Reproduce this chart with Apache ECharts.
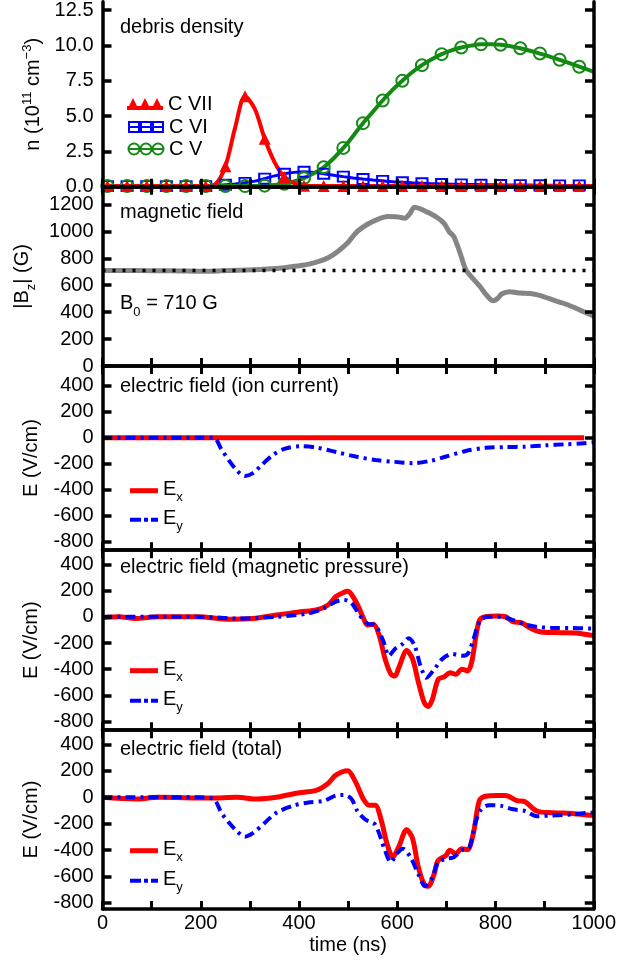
<!DOCTYPE html>
<html><head><meta charset="utf-8">
<script src="https://cdn.jsdelivr.net/npm/echarts@6/dist/echarts.min.js"></script>
<style>html,body{margin:0;padding:0;background:#fff}#c{width:619px;height:963px}</style>
</head><body><div id="c"></div>
<script>
// ---------------- data ----------------
const timeTicks = [0,100,200,300,400,500,600,700,800,900,1000];
const timeLabels = [0,200,400,600,800,1000];
const densTicks = [0,2.5,5,7.5,10,12.5];
const bzTicks = [0,200,400,600,800,1000,1200];
const eTicks = [-800,-600,-400,-200,0,200,400];

// debris density (10^11 cm^-3)
const densTime = [10,30,50,70,90,110,130,150,170,190,210,230,250,270,290,310,330,350,370,390,410,430,450,470,490,510,530,550,570,590,610,630,650,670,690,710,730,750,770,790,810,830,850,870,890,910,930,950,970,990,1000];
const cVII = [0.05,0.05,0.05,0.05,0.05,0.05,0.05,0.05,0.05,0.05,0.05,0.2,1.45,4.2,6.4,5.5,3.4,1.75,0.7,0.25,0.08,0.05,0.05,0.05,0.05,0.05,0.05,0.05,0.05,0.05,0.05,0.05,0.05,0.05,0.05,0.05,0.05,0.05,0.05,0.05,0.05,0.05,0.05,0.05,0.05,0.05,0.05,0.05,0.05,0.05,0.05];
const cVI = [0.05,0.05,0.05,0.05,0.05,0.05,0.05,0.05,0.05,0.05,0.05,0.08,0.14,0.2,0.28,0.4,0.58,0.77,0.92,1.02,1.06,1.02,0.92,0.82,0.72,0.63,0.55,0.48,0.42,0.36,0.32,0.28,0.25,0.22,0.2,0.18,0.17,0.16,0.15,0.14,0.13,0.13,0.12,0.12,0.11,0.11,0.1,0.1,0.1,0.1,0.1];
const cV = [0.05,0.05,0.05,0.05,0.05,0.05,0.05,0.05,0.05,0.05,0.05,0.05,0.05,0.05,0.05,0.05,0.08,0.12,0.22,0.38,0.62,0.95,1.38,2.0,2.75,3.6,4.5,5.3,6.1,6.85,7.5,8.1,8.6,9.02,9.38,9.65,9.85,9.98,10.07,10.08,10.04,9.94,9.8,9.62,9.42,9.2,8.98,8.74,8.49,8.25,8.13];

// magnetic field |Bz| (G)
const bzTime = [0,40,80,120,160,200,240,280,320,360,400,420,440,460,480,500,510,520,540,560,580,600,615,625,635,645,660,680,695,705,715,727,739,750,767,783,795,805,812,828,850,870,885,900,916,936,956,976,1000];
const bzValue = [709,710,709,708,706,704,707,712,717,726,745,757,777,806,855,920,965,1005,1055,1090,1110,1108,1098,1130,1180,1170,1145,1105,1060,1000,960,845,717,665,595,520,485,505,535,552,542,538,528,512,492,468,440,408,370];
const b0Time = [0,1000];
const b0Value = [710,710];

// electric field (ion current)
const ionExTime = [0,980];
const ionExValue = [0,0];
const ionEyTime = [0,100,200,226,242,258,274,290,306,322,346,370,403,435,475,515,555,595,631,667,699,739,779,820,860,900,940,980,1000];
const ionEyValue = [0,0,0,0,-89,-178,-255,-295,-273,-217,-135,-86,-66,-76,-110,-145,-171,-186,-196,-178,-145,-102,-78,-72,-69,-59,-51,-43,-35];

// electric field (magnetic pressure)
const mpExTime = [0,34,66,114,194,258,306,354,403,435,459,475,491,499,507,519,531,539,551,563,575,587,595,603,619,631,643,655,663,671,683,695,707,719,731,743,751,759,767,779,803,820,836,852,872,892,932,964,996,1000];
const mpExValue = [-8,0,-13,0,0,-18,-13,13,39,52,90,155,186,194,168,90,-13,-62,-58,-142,-323,-439,-452,-387,-258,-323,-503,-658,-684,-632,-477,-458,-426,-439,-400,-413,-348,-168,-26,0,5,0,-39,-44,-90,-116,-121,-124,-142,-143];
const mpEyTime = [0,114,194,274,354,419,451,475,491,507,523,539,555,571,583,595,611,623,635,647,659,675,691,711,731,743,755,767,783,812,836,860,884,916,956,996,1000];
const mpEyValue = [0,0,0,-13,0,26,65,116,129,103,13,-52,-65,-181,-297,-245,-206,-163,-219,-374,-465,-400,-323,-284,-297,-284,-168,-39,0,0,-26,-59,-77,-85,-85,-90,-90];

// electric field (total)
const totExTime = [0,66,114,218,274,314,354,395,435,459,475,499,515,531,543,555,567,579,591,603,619,631,643,655,663,675,683,699,707,719,731,743,755,767,779,803,820,844,860,884,916,956,996,1000];
const totExValue = [0,-13,0,-5,0,-13,0,31,52,104,168,202,117,-13,-60,-60,-168,-350,-454,-376,-246,-311,-531,-661,-674,-583,-480,-441,-402,-428,-389,-397,-272,-26,8,13,13,-26,-34,-104,-117,-122,-137,-138];
const totEyTime = [0,194,226,242,258,274,290,306,330,354,387,419,451,475,491,507,519,535,555,575,587,599,611,627,643,657,671,683,699,715,731,747,759,771,787,812,836,860,884,916,956,996,1000];
const totEyValue = [0,0,-13,-117,-194,-259,-298,-272,-194,-117,-65,-39,-26,13,18,-13,-104,-168,-207,-402,-492,-428,-389,-454,-583,-674,-609,-492,-467,-454,-402,-376,-194,-91,-60,-65,-91,-104,-143,-137,-130,-117,-117];

// ---------------- layout / style ----------------
const F = 'Liberation Sans, Arial, sans-serif';
const FS = 20;
const RED = '#ff0000', BLUE = '#0000ff', GREEN = '#138a13', GRAY = '#858585';
const DASHDOT = [10,5,3,5];
const gx = 102.5, gw = 491.5;
const panels = [
  {top:-3, height:189.8, min:0, max:13.08, ticks:densTicks, fmt:v=>v.toFixed(1)},
  {top:186.8, height:179.2, min:0, max:1331.5, ticks:bzTicks, fmt:v=>String(v)},
  {top:366, height:184.2, min:-865.4, max:551.5, ticks:eTicks, fmt:v=>String(v)},
  {top:550.2, height:180, min:-864.8, max:507.5, ticks:eTicks, fmt:v=>String(v)},
  {top:730.2, height:178.8, min:-846.2, max:508.3, ticks:eTicks, fmt:v=>String(v)}
];
const zip = (t, v) => t.map((x, i) => [x, v[i]]);
const black = '#000';
const grids = [], xAxes = [], yAxes = [];
const AZ = 4;
const axLine = {show:true, onZero:false, lineStyle:{color:black, width:3.5}};
const yNames = [
  {name:'{a|n (10}{b|11}{a| cm}{b|\u22123}{a|)}', gap:59.5,
   rich:{a:{fontSize:FS, fontFamily:F, color:black, lineHeight:22, padding:[5,0,0,0], verticalAlign:'bottom'},
         b:{fontSize:13, fontFamily:F, color:black, lineHeight:13, verticalAlign:'top'}}},
  {name:'{a||B}{s|z}{a|| (G)}', gap:55.5,
   rich:{a:{fontSize:FS, fontFamily:F, color:black, lineHeight:22, verticalAlign:'top'},
         s:{fontSize:13, fontFamily:F, color:black, lineHeight:13, padding:[13,0,0,0], verticalAlign:'top'}}},
  {name:'E (V/cm)', gap:59.5, rich:null},
  {name:'E (V/cm)', gap:59.5, rich:null},
  {name:'E (V/cm)', gap:59.5, rich:null}
];
panels.forEach((p, i) => {
  grids.push({left:gx, width:gw, top:p.top, height:p.height, containLabel:false});
  xAxes.push({type:'value', gridIndex:i, position:'bottom', min:0, max:1000, z:AZ,
    axisLine:axLine, splitLine:{show:false},
    axisTick:{show:true, inside:true, length:8, lineStyle:{color:black, width:3}, customValues:timeTicks},
    axisLabel:{show:i===4, customValues:timeLabels, formatter:v=>String(v), margin:4, color:black, fontFamily:F, fontSize:FS},
    name: i===4 ? 'time (ns)' : '', nameLocation:'middle', nameGap:25,
    nameTextStyle:{color:black, fontFamily:F, fontSize:FS, lineHeight:22}});
  xAxes.push({type:'value', gridIndex:i, position:'top', min:0, max:1000, show:i!==0, z:AZ,
    axisLine:axLine, splitLine:{show:false},
    axisTick:{show:true, inside:true, length:8, lineStyle:{color:black, width:3}, customValues:timeTicks},
    axisLabel:{show:false}});
  const yn = yNames[i];
  const nts = {color:black, fontFamily:F, fontSize:FS, lineHeight:22};
  if (yn.rich) nts.rich = yn.rich;
  yAxes.push({type:'value', gridIndex:i, position:'left', min:p.min, max:p.max, z:AZ,
    axisLine:axLine, splitLine:{show:false},
    axisTick:{show:true, inside:true, length:9, lineStyle:{color:black, width:3.5}, customValues:p.ticks},
    axisLabel:{show:true, customValues:p.ticks, formatter:p.fmt, margin:9, color:black, fontFamily:F, fontSize:FS},
    name:yn.name, nameLocation:'middle', nameGap:yn.gap, nameTextStyle:nts});
  yAxes.push({type:'value', gridIndex:i, position:'right', min:p.min, max:p.max, z:AZ,
    axisLine:axLine, splitLine:{show:false},
    axisTick:{show:true, inside:true, length:9, lineStyle:{color:black, width:3.5}, customValues:p.ticks},
    axisLabel:{show:false}});
});

function markedData(t, v) {
  return t.map((x, i) => (i % 2 === 0 && i < 50) ? {value:[x, v[i]]} : {value:[x, v[i]], symbol:'none'});
}
const series = [
  {name:'C VI', type:'line', xAxisIndex:0, yAxisIndex:0, data:markedData(densTime, cVI), smooth:0.3,
   symbol:'rect', symbolSize:[11,10], lineStyle:{color:BLUE, width:3},
   itemStyle:{color:'rgba(0,0,0,0)', borderColor:BLUE, borderWidth:2}},
  {name:'C V', type:'line', xAxisIndex:0, yAxisIndex:0, data:markedData(densTime, cV), smooth:0.3,
   symbol:'circle', symbolSize:12, lineStyle:{color:GREEN, width:4},
   itemStyle:{color:'rgba(0,0,0,0)', borderColor:GREEN, borderWidth:2}},
  {name:'C VII', type:'line', xAxisIndex:0, yAxisIndex:0, data:markedData(densTime, cVII), smooth:0.3,
   symbol:'triangle', symbolSize:12, lineStyle:{color:RED, width:4},
   itemStyle:{color:RED}},
  {name:'Bz', type:'line', xAxisIndex:2, yAxisIndex:2, data:zip(bzTime, bzValue), smooth:0.3,
   symbol:'none', lineStyle:{color:GRAY, width:5}},
  {name:'B0', type:'line', xAxisIndex:2, yAxisIndex:2, data:zip(b0Time, b0Value),
   symbol:'none', lineStyle:{color:black, width:3.5, type:[3,7]}},
  {name:'Ex', type:'line', xAxisIndex:4, yAxisIndex:4, data:zip(ionExTime, ionExValue),
   symbol:'none', lineStyle:{color:RED, width:5}, itemStyle:{color:RED}},
  {name:'Ey', type:'line', xAxisIndex:4, yAxisIndex:4, data:zip(ionEyTime, ionEyValue), smooth:0.3,
   symbol:'none', lineStyle:{color:BLUE, width:4, type:DASHDOT}, itemStyle:{color:BLUE}},
  {name:'Ex', type:'line', xAxisIndex:6, yAxisIndex:6, data:zip(mpExTime, mpExValue), smooth:0.3,
   symbol:'none', lineStyle:{color:RED, width:5}, itemStyle:{color:RED}},
  {name:'Ey', type:'line', xAxisIndex:6, yAxisIndex:6, data:zip(mpEyTime, mpEyValue), smooth:0.3,
   symbol:'none', lineStyle:{color:BLUE, width:4, type:DASHDOT}, itemStyle:{color:BLUE}},
  {name:'Ex', type:'line', xAxisIndex:8, yAxisIndex:8, data:zip(totExTime, totExValue), smooth:0.3,
   symbol:'none', lineStyle:{color:RED, width:5}, itemStyle:{color:RED}},
  {name:'Ey', type:'line', xAxisIndex:8, yAxisIndex:8, data:zip(totEyTime, totEyValue), smooth:0.3,
   symbol:'none', lineStyle:{color:BLUE, width:4, type:DASHDOT}, itemStyle:{color:BLUE}}
];

// legend icons (library legend, custom icon shapes)
const ICON = {
  'C VII': 'path://M0,13L6,1L12,13ZM12,13L18,1L24,13ZM24,13L30,1L36,13ZM0,9H36V13H0Z',
  'C VI': 'path://M0,6H36M1,1H11V11H1ZM13,1H23V11H13ZM25,1H35V11H25Z',
  'C V': 'path://M0,6H36M11.5,6A5.5,5.5,0,1,1,0.5,6A5.5,5.5,0,1,1,11.5,6ZM23.5,6A5.5,5.5,0,1,1,12.5,6A5.5,5.5,0,1,1,23.5,6ZM35.5,6A5.5,5.5,0,1,1,24.5,6A5.5,5.5,0,1,1,35.5,6Z',
  'Ex': 'path://M0,0H28V5H0Z',
  'Ey': 'path://M0,0H11V4H0ZM14,0H18V4H14ZM21,0H28V4H21Z'
};
const legRich = {
  e:{fontSize:FS, fontFamily:F, color:black, lineHeight:22, verticalAlign:'top'},
  s:{fontSize:13, fontFamily:F, color:black, lineHeight:13, padding:[11,0,0,0], verticalAlign:'top'}
};
function leg(name, left, top, w, h, itemStyle) {
  return {data:[{name:name, icon:ICON[name]}], left:left, top:top, orient:'vertical', itemWidth:w, itemHeight:h, padding:0,
    selectedMode:false, itemStyle:itemStyle,
    formatter: n => n === 'Ex' ? '{e|E}{s|x}' : (n === 'Ey' ? '{e|E}{s|y}' : n),
    textStyle:{fontFamily:F, fontSize:FS, color:black, lineHeight:22, rich:legRich}};
}
const stRed = {color:RED, borderWidth:0};
const stBlue = {color:BLUE, borderWidth:0};
const stBlueHollow = {color:'rgba(0,0,0,0)', borderColor:BLUE, borderWidth:2};
const stGreenHollow = {color:'rgba(0,0,0,0)', borderColor:GREEN, borderWidth:2};
const legends = [
  leg('C VII', 127, 93, 36, 12, stRed),
  leg('C VI', 127, 116, 36, 10, stBlueHollow),
  leg('C V', 127, 138, 36, 11, stGreenHollow),
  leg('Ex', 130, 479.7, 28, 5, stRed), leg('Ey', 130, 508.7, 28, 4, stBlue),
  leg('Ex', 130, 659.7, 28, 5, stRed), leg('Ey', 130, 689.7, 28, 4, stBlue),
  leg('Ex', 130, 839.7, 28, 5, stRed), leg('Ey', 130, 869.7, 28, 4, stBlue)
];

function txt(s, x, y, rich) {
  const st = {text:s, fontFamily:F, fontSize:FS, fill:black, verticalAlign:'middle', align:'left'};
  if (rich) st.rich = rich;
  return {type:'text', x:x, y:y, z:100, style:st};
}
const b0Rich = {a:{fontSize:FS, fontFamily:F, fill:black, lineHeight:22, verticalAlign:'top'},
                s:{fontSize:13, fontFamily:F, fill:black, lineHeight:13, padding:[13,0,0,0], verticalAlign:'top'}};
const graphics = [
  // panel-1 plotting area ends at its bottom frame: mask marker halves that spill below it
  {type:'rect', z:3, silent:true, shape:{x:104.3, y:188.5, width:488, height:9}, style:{fill:'#fff'}},
  txt('debris density', 120, 27.5),
  txt('magnetic field', 120, 212.5),
  txt('{a|B}{s|0}{a| = 710 G}', 120, 304, b0Rich),
  txt('electric field (ion current)', 120, 386.7),
  txt('electric field (magnetic pressure)', 120, 567.5),
  txt('electric field (total)', 120, 749)
];

const chart = echarts.init(document.getElementById('c'), null, {renderer:'canvas'});
chart.setOption({
  animation:false,
  backgroundColor:'#fff',
  textStyle:{fontFamily:F},
  grid:grids, xAxis:xAxes, yAxis:yAxes,
  legend:legends, series:series, graphic:graphics
});
</script></body></html>
